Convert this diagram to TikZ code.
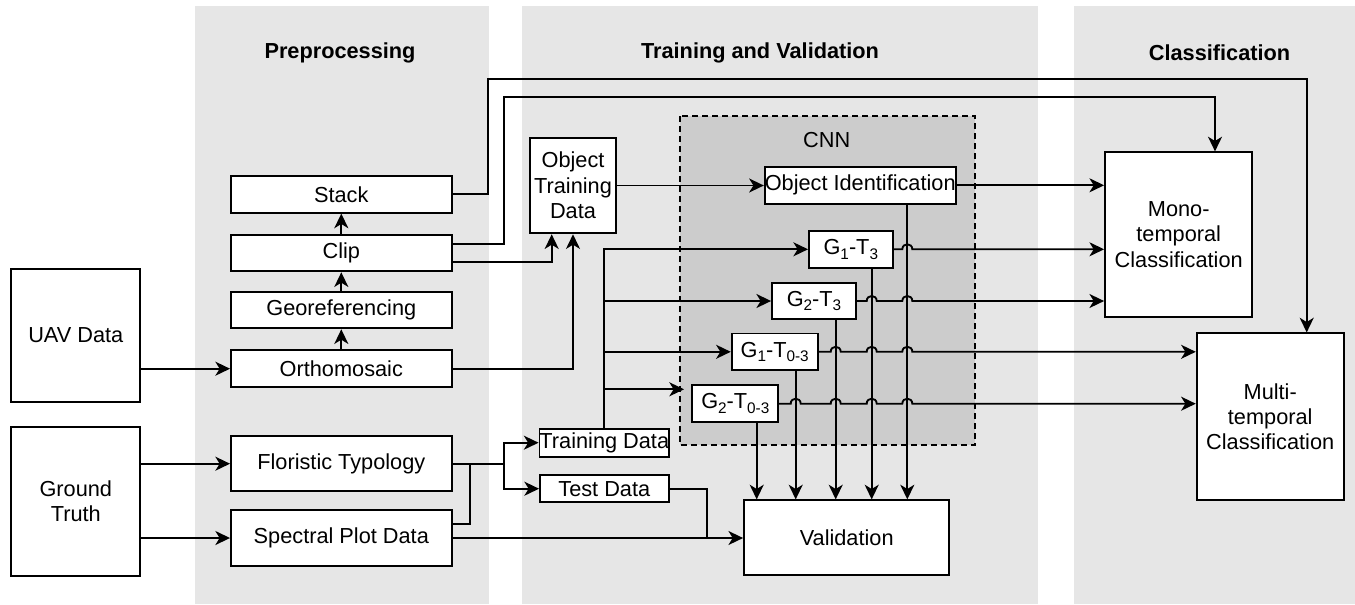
\documentclass[tikz,border=0pt]{standalone}
\usepackage{fontspec}
\setmainfont{Liberation Sans}
\usetikzlibrary{arrows.meta,calc}
\definecolor{panelgray}{HTML}{E6E6E6}
\definecolor{cnngray}{HTML}{CCCCCC}
\newcommand{\sbs}[1]{\raisebox{-0.4ex}{\fontsize{11.5}{12}\selectfont #1}}
\begin{document}
\begin{tikzpicture}[x=0.75pt,y=-0.75pt,
  font=\fontsize{16.3}{19}\selectfont, line width=1.4pt,
  box/.style={draw, fill=white, inner sep=0pt, align=center, line width=1.4pt},
  pbox/.style={box, minimum width=165.5pt, minimum height=27.5pt},
  gbox/.style={box, minimum height=27.5pt},
  title/.style={font=\fontsize{16.3}{19}\selectfont\bfseries},
  arr/.style={-{Stealth[length=11pt,width=10.5pt,inset=3.2pt]}}]

\useasboundingbox (0,0) rectangle (1355,604);
% panels
\fill[panelgray] (195,6) rectangle (489,604);
\fill[panelgray] (522,6) rectangle (1038,604);
\fill[panelgray] (1074,6) rectangle (1355,604);
\node[title] (tpre) at (340,53) {Preprocessing};
\node[title] (ttrain) at (760,53) {Training and Validation};
\node[title] (tclass) at (1219.5,53) {Classification};

% CNN container
\draw[fill=cnngray, dash pattern=on 4.5pt off 3pt] (680,116) rectangle (975,445);
\node (cnn) at (826.7,140) {CNN};

% nodes
\node[box, minimum width=96.75pt, minimum height=99.5pt] (uav) at (75.8,335.3) {UAV Data};
\node[box, minimum width=96.75pt, minimum height=111.5pt] (gt) at (75.8,501.3) {Ground\\Truth};
\node[pbox] (stack) at (341.3,194.3) {Stack};
\node[pbox] (clip) at (341.3,253) {Clip};
\node[pbox] (georef) at (341.3,310) {Georeferencing};
\node[pbox] (ortho) at (341.3,368.7) {Orthomosaic};
\node[pbox, minimum height=41.5pt] (flor) at (341.3,463.7) {Floristic Typology};
\node[pbox, minimum height=41.5pt] (spec) at (341.3,538) {Spectral Plot Data};
\node[box, minimum width=64.5pt, minimum height=71.75pt] (otd) at (573,185.5) {Object\\Training\\Data};
\node[box, minimum width=141.2pt, minimum height=28pt] (objid) at (860.2,185.3) {Object Identification};
\node[gbox, minimum width=62.75pt] (g1t3) at (850.8,249.3) {G\sbs{1}-T\sbs{3}};
\node[gbox, minimum width=63pt] (g2t3) at (814,301) {G\sbs{2}-T\sbs{3}};
\node[gbox, minimum width=64.5pt] (g1t03) at (774.7,351.8) {G\sbs{1}-T\sbs{0-3}};
\node[gbox, minimum width=64.5pt] (g2t03) at (735.3,403.7) {G\sbs{2}-T\sbs{0-3}};
\node[box, minimum width=96.5pt, minimum height=21pt] (trainD) at (604.3,442.7) {Training Data};
\node[box, minimum width=96.5pt, minimum height=20.5pt] (testD) at (604.3,488.7) {Test Data};
\node[box, minimum width=154pt, minimum height=55.75pt] (valid) at (846.7,537.5) {Validation};
\node[box, minimum width=110.5pt, minimum height=123.25pt] (mono) at (1178.7,234.5) {Mono-\\temporal\\Classification};
\node[box, minimum width=110.25pt, minimum height=125pt] (multi) at (1270.2,416.7) {Multi-\\temporal\\Classification};

% coordinates
\coordinate (j) at (504.3,463.7);

% preprocessing chain
\draw[arr] (uav.east |- ortho.west) -- (ortho.west);
\draw[arr] (gt.east |- flor.west) -- (flor.west);
\draw[arr] (gt.east |- spec.west) -- (spec.west);
\draw[arr] (ortho) -- (georef);
\draw[arr] (georef) -- (clip);
\draw[arr] (clip) -- (stack);

% long lines
\draw[arr] (stack.east) -| (488,79) -| (multi.north -| 1306.7,0);
\draw[arr] (clip.east |- 0,244) -| (504.3,97.3) -| (mono.north -| 1215,0);
\draw[arr] (clip.east |- 0,262.3) -| (otd.south -| 551.7,0);
\draw[arr] (ortho.east) -| (otd.south);
\draw[arr] (otd.east) -- (otd.east -| objid.west);
\draw[arr] (objid.east) -- (objid.east -| mono.west);

% ground truth data split
\draw (flor.east) -- (j);
\draw (spec.east |- 0,524.3) -| (470,463.7);
\draw[arr] (j) |- (trainD.west);
\draw[arr] (j) |- (testD.west);
\draw[arr] (spec.east) -- (spec.east -| valid.west);
\draw (testD.east) -| (706.7,538);

% training data to models
\draw[arr] (trainD.north) |- (g1t3.west);
\draw[arr] (trainD.north |- g2t3.west) -- (g2t3.west);
\draw[arr] (trainD.north |- g1t03.west) -- (g1t03.west);
\draw[arr] (trainD.north |- 0,389.3) -- (684,389.3);

% verticals to validation
\draw[arr] (objid.south -| 907.3,0) -- (valid.north -| 907.3,0);
\draw[arr] (g1t3.south -| 871.7,0) -- (valid.north -| 871.7,0);
\draw[arr] (g2t3.south -| 835.7,0) -- (valid.north -| 835.7,0);
\draw[arr] (g1t03.south -| 795.7,0) -- (valid.north -| 795.7,0);
\draw[arr] (g2t03.south -| 756.7,0) -- (valid.north -| 756.7,0);

% horizontals with hops
\draw[arr] (g1t3.east) -- (902.3,249.3) .. controls (902.3,242.6) and (912.3,242.6) .. (912.3,249.3) -- (g1t3.east -| mono.west);
\draw[arr] (g2t3.east) -- (866.7,301) .. controls (866.7,294.3) and (876.7,294.3) .. (876.7,301)
  -- (902.3,301) .. controls (902.3,294.3) and (912.3,294.3) .. (912.3,301) -- (g2t3.east -| mono.west);
\draw[arr] (g1t03.east) -- (830.7,351.8) .. controls (830.7,345.1) and (840.7,345.1) .. (840.7,351.8)
  -- (866.7,351.8) .. controls (866.7,345.1) and (876.7,345.1) .. (876.7,351.8)
  -- (902.3,351.8) .. controls (902.3,345.1) and (912.3,345.1) .. (912.3,351.8) -- (g1t03.east -| multi.west);
\draw[arr] (g2t03.east) -- (790.7,403.7) .. controls (790.7,397) and (800.7,397) .. (800.7,403.7)
  -- (830.7,403.7) .. controls (830.7,397) and (840.7,397) .. (840.7,403.7)
  -- (866.7,403.7) .. controls (866.7,397) and (876.7,397) .. (876.7,403.7)
  -- (902.3,403.7) .. controls (902.3,397) and (912.3,397) .. (912.3,403.7) -- (g2t03.east -| multi.west);
\end{tikzpicture}
\end{document}
